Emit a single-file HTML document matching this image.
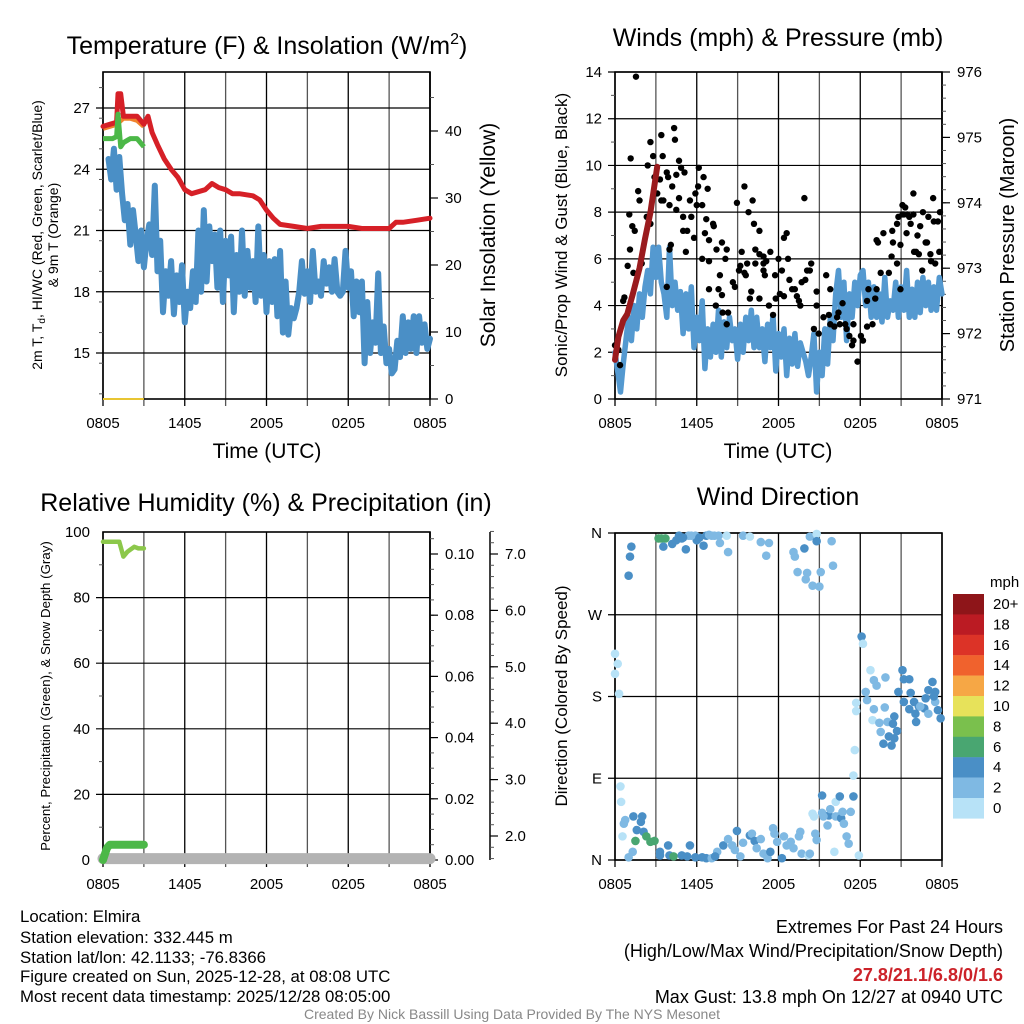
<!DOCTYPE html>
<html><head><meta charset="utf-8"><style>
html,body{margin:0;padding:0;background:#fff;}
svg{display:block;font-family:"Liberation Sans",Arial,sans-serif;}
</style></head><body>
<svg id="fig" width="1024" height="1024" viewBox="0 0 1024 1024" xmlns="http://www.w3.org/2000/svg">
<rect x="0" y="0" width="1024" height="1024" fill="#fff"/>
<g id="p1"></g>
<g id="p2"></g>
<g id="p3"></g>
<g id="p4"></g>
<g id="txt">
<text x="267" y="54" font-size="25" text-anchor="middle">Temperature (F) &amp; Insolation (W/m<tspan font-size="16" dy="-10">2</tspan><tspan dy="10">)</tspan></text>
<text x="778" y="46" font-size="25" text-anchor="middle">Winds (mph) &amp; Pressure (mb)</text>
<text x="266" y="511" font-size="25" text-anchor="middle">Relative Humidity (%) &amp; Precipitation (in)</text>
<text x="778" y="505" font-size="25" text-anchor="middle">Wind Direction</text>
<text x="267" y="458" font-size="21" text-anchor="middle">Time (UTC)</text>
<text x="778" y="458" font-size="21" text-anchor="middle">Time (UTC)</text>
<text transform="translate(42,235) rotate(-90)" font-size="14" text-anchor="middle">2m T, T<tspan font-size="10" dy="3">d</tspan><tspan dy="-3">, HI/WC (Red, Green, Scarlet/Blue)</tspan></text>
<text transform="translate(58,235) rotate(-90)" font-size="14" text-anchor="middle">&amp; 9m T (Orange)</text>
<text transform="translate(495,235) rotate(-90)" font-size="21" text-anchor="middle">Solar Insolation (Yellow)</text>
<text transform="translate(567,235) rotate(-90)" font-size="17" text-anchor="middle">Sonic/Prop Wind &amp; Gust (Blue, Black)</text>
<text transform="translate(1014,235) rotate(-90)" font-size="20" text-anchor="middle">Station Pressure (Maroon)</text>
<text transform="translate(50,696) rotate(-90)" font-size="13.3" text-anchor="middle">Percent, Precipitation (Green), &amp; Snow Depth (Gray)</text>
<text transform="translate(567,696) rotate(-90)" font-size="17" text-anchor="middle">Direction (Colored By Speed)</text>
<g font-size="16.8">
<text x="20" y="922">Location: Elmira</text>
<text x="20" y="943">Station elevation: 332.445 m</text>
<text x="20" y="963">Station lat/lon: 42.1133; -76.8366</text>
<text x="20" y="982">Figure created on Sun, 2025-12-28, at 08:08 UTC</text>
<text x="20" y="1002">Most recent data timestamp: 2025/12/28 08:05:00</text>
</g>
<g font-size="18" text-anchor="end">
<text x="1003" y="933">Extremes For Past 24 Hours</text>
<text x="1003" y="957">(High/Low/Max Wind/Precipitation/Snow Depth)</text>
<text x="1003" y="981" fill="#cc2229" font-weight="bold">27.8/21.1/6.8/0/1.6</text>
<text x="1003" y="1003">Max Gust: 13.8 mph On 12/27 at 0940 UTC</text>
</g>
<text x="512" y="1019" font-size="14" fill="#888" text-anchor="middle">Created By Nick Bassill Using Data Provided By The NYS Mesonet</text>
</g>
</svg>
<script>
// ---------- DATA ----------
const xTickLabels = ["0805","1405","2005","0205","0805"];
const p1LeftTicks = [15,18,21,24,27];
const p1RightTicks = [0,10,20,30,40];
const tempHours = [0,0.5,1.0,1.1,1.3,1.5,2,2.5,3,3.3,3.6,4,4.5,5,5.5,6,6.5,7,7.5,8,8.5,9,9.5,10,11,11.5,12,12.5,13,14,15,16,17,18,19,20,21,21.5,22,23,24];
const tempValues = [26.1,26.2,26.3,27.7,27.7,26.6,26.6,26.6,26.2,26.6,25.8,25.2,24.5,24.0,23.6,23.0,22.8,22.9,23.0,23.3,23.1,23.0,22.8,22.8,22.7,22.5,22.0,21.6,21.3,21.2,21.1,21.2,21.2,21.2,21.1,21.1,21.1,21.4,21.4,21.5,21.6];
const t9Hours = [0,0.5,1.0,1.5,2,2.5,3];
const t9Values = [26.0,26.1,26.2,26.5,26.5,26.4,26.1];
const wcHours = [0,0.7,1.0,1.1,1.3,1.5,2.0,2.5,3.0];
const wcValues = [25.5,25.5,25.6,26.7,25.1,25.3,25.5,25.5,25.1];
const dewStart = 0.4, dewStep = 0.2;
const dewValues = [24.5,23.5,25.0,23.0,24.6,22.8,21.5,22.3,20.3,22.0,20.8,19.5,21.0,19.2,20.5,21.3,19.8,23.2,19.0,20.5,17.0,19.0,17.8,19.5,16.9,18.8,17.5,19.3,16.5,18.0,17.2,19.0,17.5,21.0,18.0,22.0,18.5,21.2,19.5,20.8,18.2,21.0,17.5,20.5,18.8,20.7,17.0,19.8,18.0,21.0,17.8,20.0,18.2,19.5,17.5,21.2,17.8,19.8,17.0,19.5,17.5,19.6,16.8,20.0,16.0,18.5,15.9,17.2,16.7,17.2,18.0,19.5,17.9,19.0,17.5,20.0,18.0,18.5,17.8,19.5,18.4,19.2,18.0,19.6,18.0,17.8,18.0,20.0,18.2,19.0,16.8,18.5,17.0,18.5,14.5,17.5,15.0,16.5,15.5,18.9,15.0,16.3,14.5,15.2,14.0,14.2,15.6,14.8,16.8,15.0,16.5,15.2,16.8,15.0,16.8,15.5,16.4,15.2,15.7];
const solarHours = [0,3];
const solarValues = [0,0];

const p2LeftTicks = [0,2,4,6,8,10,12,14];
const p2RightTicks = [971,972,973,974,975,976];
const presHours = [0,0.25,0.6,0.9,1.3,1.8,2.2,2.6,3.1];
const presValues = [971.6,971.95,972.2,972.3,972.6,973.0,973.45,973.85,974.55];
const windStart = 0, windStep = 0.2;
const windValues = [2.0,1.2,0.3,1.5,2.5,3.5,2.5,4.0,3.0,4.5,3.5,4.8,5.5,4.5,6.5,5.2,6.5,5.0,4.5,3.5,6.5,4.0,5.0,3.8,4.6,2.8,4.5,3.0,4.8,2.2,3.5,2.5,4.2,1.3,3.0,1.8,3.2,2.0,3.8,1.8,3.3,2.2,3.5,2.5,3.0,1.7,3.2,2.0,3.5,2.5,3.8,2.2,3.5,2.2,3.0,1.6,3.2,2.2,3.6,1.2,2.8,1.8,3.0,1.0,2.6,1.5,2.8,1.4,2.4,2.0,1.6,1.0,1.8,2.8,0.3,2.0,1.0,3.0,1.5,3.5,2.5,4.5,5.5,3.5,5.0,2.5,4.5,3.5,5.0,4.0,5.3,5.5,4.0,5.0,3.5,4.8,3.5,4.5,3.3,5.2,3.5,4.2,3.8,5.0,3.5,4.8,3.8,5.5,3.5,4.7,3.5,5.0,3.7,5.2,4.0,5.0,3.8,4.8,3.8,5.2,4.5];
const gustHours = [1.54,1.15,1.05,1.27,1.45,1.1,0.93,0.69,0.6,0,0.25,0.37,1.7,1.8,1.35,1.96,2.33,2.6,2.4,2.6,2.8,2.9,3.1,3.4,3.55,3.4,4.34,4.4,3.5,3.3,3.8,3.9,4.2,4.0,4.5,4.7,4.85,5.1,4.7,4.5,5.0,5.0,5.3,5.8,5.6,5.5,5.9,6.15,6.0,6.1,6.5,6.4,6.7,6.6,6.8,7.2,7.25,6.9,7.45,7.85,8.2,8.1,6.4,6.9,5.2,4.1,4.0,3.8,6.9,7.6,7.85,7.7,7.4,7.9,8.3,8.2,8.65,8.8,8.95,9.5,9.8,10.1,10.2,10.6,10.3,9.3,9.2,9.1,9.5,9.6,9.7,10.0,9.9,10.3,10.6,10.9,10.9,11.1,11.4,10.9,11.0,11.3,11.6,10.6,11.8,11.75,12.0,12.1,12.25,12.4,12.4,12.6,12.7,12.8,13.0,13.2,13.35,13.5,13.6,13.7,13.9,13.97,14.1,14.3,14.4,14.8,14.8,14.6,14.95,15.3,15.5,15.8,15.7,15.8,16.1,16.3,16.4,16.7,16.5,16.9,17.2,17.0,17.5,17.5,17.4,17.8,18.05,18.2,18.5,18.9,18.5,18.6,19.2,19.1,19.2,19.3,19.5,19.7,20.1,20.3,20.4,20.35,20.7,20.8,20.7,20.95,21.1,20.95,21.2,21.3,21.1,21.45,21.4,21.6,21.7,21.9,21.9,21.95,22.1,22.2,22.3,22.4,22.55,22.6,22.8,22.9,23.0,23.15,23.2,23.35,23.4,23.5,23.7,23.8,23.85];
const gustValues = [13.8,10.3,7.9,7.4,7.2,6.4,5.7,4.35,4.2,2.3,2.1,1.45,8.9,8.5,5.4,5.8,7.8,7.5,10.0,11.0,10.4,9.5,8.8,8.5,8.5,11.3,11.6,11.1,10.4,9.4,9.7,9.5,9.1,8.3,9.6,10.2,9.9,9.7,8.6,8.1,7.8,7.2,7.2,6.9,7.8,8.5,8.8,9.9,8.3,9.1,9.5,8.3,7.7,7.1,9.0,7.5,7.4,6.8,6.4,6.7,6.4,6.0,6.0,5.9,6.3,6.6,6.4,4.8,4.7,4.7,4.45,5.3,4.0,3.7,3.7,3.2,5.0,4.8,8.4,9.1,8.0,8.5,7.5,7.2,6.4,6.3,5.7,5.5,5.4,5.3,5.8,4.6,4.3,5.8,6.2,6.1,5.8,5.9,6.3,5.5,5.3,4.0,3.6,4.3,4.3,5.3,6.0,4.5,5.5,4.4,6.9,7.1,6.0,5.1,4.7,4.7,4.4,4.2,4.0,5.0,8.6,5.1,5.5,5.5,5.8,4.6,4.0,3.0,2.8,3.5,5.3,4.7,3.6,3.2,3.1,3.5,3.7,4.1,3.2,3.2,2.7,3.0,3.2,2.5,2.3,1.6,2.7,2.5,3.1,3.2,4.2,4.7,4.7,4.3,6.8,6.7,5.4,7.1,5.4,6.1,6.7,7.2,7.5,7.8,5.8,6.6,7.9,4.7,7.9,8.2,8.3,7.9,7.1,7.8,7.5,7.9,8.8,6.3,6.3,7.0,6.2,7.4,5.5,8.0,6.7,6.7,7.8,6.2,5.9,8.6,7.6,5.8,7.6,6.3,8.0];

const p3LeftTicks = [0,20,40,60,80,100];
const p3RightTicks = ["0.00","0.02","0.04","0.06","0.08","0.10"];
const p3SnowTicks = ["2.0","3.0","4.0","5.0","6.0","7.0"];
const rhHours = [0,0.7,1.2,1.5,1.8,2.3,2.6,3.0];
const rhValues = [97,97,97,92.5,94,95.5,95,95];
const precipHours = [0,0.15,0.3,0.5,0.8,1.5,2.0,3.0];
const precipValues = [0,0.002,0.004,0.005,0.005,0.005,0.005,0.005];
const snowHours = [0,6,12,18,24];
const snowValues = [1.6,1.6,1.6,1.6,1.6];

const dirTickLabels = ["N","E","S","W","N"];
const dirHours = [1.2,1.1,1.0,3.2,3.4,3.7,3.55,4.2,4.7,4.9,5.2,5.4,5.9,6.0,6.5,6.7,7.1,7.6,7.7,8.2,8.3,9.4,9.9,10.7,11.3,11.1,13.1,13.2,13.9,13.4,14.1,14.0,14.5,15.0,15.1,14.3,14.8,14.8,15.9,16.0,4.5,5.0,5.6,6.2,6.9,7.3,
0,0.2,0.0,0.3,
18.1,18.2,18.75,19.0,19.2,19.85,18.4,18.5,17.7,17.7,19.0,19.8,18.9,19.4,20.0,20.5,20.4,20.7,19.5,20.1,19.7,20.3,20.5,17.6,17.5,
21.1,21.2,21.6,20.8,21.7,21.2,21.95,21.6,22.3,22.05,22.1,22.7,23.0,22.8,23.3,23.0,23.5,23.5,23.7,23.9,23.4,22.4,
0.4,0.45,0.75,0.65,1.35,2.0,1.9,1.6,2.1,2.3,2.6,2.9,1.5,0.55,1.3,1.0,3.3,3.9,3.3,4.0,4.3,4.9,5.5,5.3,5.9,6.4,6.7,7.1,7.5,7.35,7.95,8.3,8.6,8.95,8.8,9.2,9.4,9.9,10.05,10.25,10.4,10.7,10.9,11.2,11.4,11.6,11.7,11.9,12.25,12.4,12.6,12.9,13.1,13.5,13.6,13.7,14.2,14.7,14.8,14.5,14.6,15.2,15.2,15.6,15.7,15.8,16.2,16.5,16.2,16.4,16.6,16.8,16.7,17.3,17.5,17.0,17.15,16.1,17.9,15.3,14.3];
const dirValues = [345,334,313,354,354,354,345,348,357,354,342,357,357,352,346,357,357,357,349,357,339,357,356,350,349,335,339,334,343,317,316,309,302,301,317,356,359,351,351,324,352,355,357,355,358,357,
227,216,205,183,
246,238,209,198,192,201,185,176,173,164,166,168,154,151,152,158,150,142,141,136,128,126,134,121,93,
209,199,199,185,184,174,174,166,169,161,152,167,161,178,196,187,185,174,165,156,180,169,
81,64,44,40,48,48,42,33,31,26,20,21,21,26,9,3,9,16,5,5,4,5,16,4,3,3,2,2,9,4,16,23,16,32,11,4,19,27,29,21,13,23,7,2,9,35,29,20,2,26,16,20,13,26,31,7,5,29,22,51,48,71,52,38,49,56,64,70,48,48,46,40,53,53,70,26,18,9,5,48,7];
const dirSpeeds = [4,4,4,6,6,6,4,4,4,4,4,2,2,4,4,4,2,2,2,0,2,2,0,2,2,2,2,2,4,2,2,2,2,2,2,2,0,4,2,2,4,4,2,4,2,2,
0,0,0,0,
4,0,0,2,2,2,2,2,0,0,2,2,0,2,2,4,4,4,2,4,4,4,4,0,0,
4,4,4,4,4,4,4,4,4,4,4,4,2,4,4,4,4,2,4,4,4,2,
0,0,2,2,4,4,4,4,4,6,6,6,6,0,2,2,4,4,4,4,6,4,4,4,4,4,4,2,2,4,4,2,2,4,2,2,2,4,2,4,2,2,2,2,4,2,2,2,4,2,2,2,2,2,2,2,0,2,2,0,0,4,2,2,4,2,0,4,2,2,4,2,2,2,4,2,2,0,0,2,2];
const cbLabels = ["20+","18","16","14","12","10","8","6","4","2","0"];
const cbColors = ["#8e1519","#bb1b23","#dc3327","#f0622d","#f6a745","#e7e25a","#7ac04d","#49a671","#4a8fc6","#7fb9e3","#b7e2f7"];

// ---------- HELPERS ----------
const NS="http://www.w3.org/2000/svg";
function mk(parent,tag,attrs){const e=document.createElementNS(NS,tag);for(const k in attrs)e.setAttribute(k,attrs[k]);parent.appendChild(e);return e;}
function lin(d0,d1,r0,r1){return v=>r0+(v-d0)*(r1-r0)/(d1-d0);}
function pathD(xs,ys,fx,fy){return xs.map((h,i)=>(i?"L":"M")+fx(h).toFixed(1)+","+fy(ys[i]).toFixed(1)).join(" ");}
function speedColor(s){const idx=Math.min(10,Math.floor(s/2));return cbColors[10-idx];}

function frame(g,L,R,T,B,fx,hGrid){
  for(let h=0;h<=24;h+=3){
    const l=mk(g,"line",{x1:fx(h),x2:fx(h),y1:T,y2:B+7,stroke:(h%6===0)?"#000":"#555","stroke-width":1.3});
    
    
  }
  hGrid.forEach(y=>{
    const l=mk(g,"line",{x1:L-7,x2:R,y1:y,y2:y,stroke:"#000","stroke-width":1.2});
    
    
  });
  const r=mk(g,"rect",{x:L,y:T,width:R-L,height:B-T,fill:"none",stroke:"#000","stroke-width":1.6});
  
  
  xTickLabels.forEach((t,i)=>{
    const tx=mk(g,"text",{x:fx(i*6),y:B+29,"font-size":15,"text-anchor":"middle"});tx.textContent=t;
    
    
  });
}
function leftLabels(g,L,ticks,fy,labels){
  ticks.forEach((v,i)=>{
    const tx=mk(g,"text",{x:L-13,y:fy(v)+5,"font-size":15,"text-anchor":"end"});tx.textContent=labels?labels[i]:v;
    
    
  });
}
function rightAxis(g,X,ticks,fy,labels,minor,T,B){
  const ax=mk(g,"line",{x1:X,x2:X,y1:T,y2:B,stroke:"#000","stroke-width":1.5});
  
  
  minor.forEach(v=>{const y=fy(v);if(y<T-1||y>B+1)return;
    const l=mk(g,"line",{x1:X,x2:X+4,y1:y,y2:y,stroke:"#555","stroke-width":1});
    
    });
  ticks.forEach((v,i)=>{const y=fy(v);
    const l=mk(g,"line",{x1:X,x2:X+8,y1:y,y2:y,stroke:"#000","stroke-width":1.2});
    
    
    const tx=mk(g,"text",{x:X+15,y:y+5,"font-size":15});tx.textContent=labels?labels[i]:v;
    
    });
}
function leftMinor(g,L,vals,fy,T,B){
  vals.forEach(v=>{const y=fy(v);if(y<T-1||y>B+1)return;
    const l=mk(g,"line",{x1:L-4,x2:L,y1:y,y2:y,stroke:"#555","stroke-width":1});
    
    });
}
function range(a,b,s){const r=[];for(let v=a;v<=b+1e-9;v+=s)r.push(+v.toFixed(4));return r;}

// ---------- PANEL 1 ----------
(function(){
  const g=document.getElementById("p1");
  const L=103,R=430,T=72,B=399;
  const fx=lin(0,24,L,R), fy=lin(15,27,353,108), fs=lin(0,40,399,131);
  frame(g,L,R,T,B,fx,p1LeftTicks.map(fy));
  leftLabels(g,L,p1LeftTicks,fy);
  leftMinor(g,L,range(13,28.5,1.5),fy,T,B);
  rightAxis(g,R,p1RightTicks,fs,null,range(0,48,5),T,B);
  const dewH=dewValues.map((v,i)=>dewStart+i*dewStep);
  let p=mk(g,"path",{d:pathD(dewH,dewValues,fx,fy),fill:"none",stroke:"#4a8fc6","stroke-width":6,"stroke-linejoin":"round","stroke-linecap":"round"});
  
  
  p=mk(g,"path",{d:pathD(t9Hours,t9Values,fx,fy),fill:"none",stroke:"#f0822d","stroke-width":5,"stroke-linejoin":"round"});
  
  
  p=mk(g,"path",{d:pathD(tempHours,tempValues,fx,fy),fill:"none",stroke:"#d62027","stroke-width":5,"stroke-linejoin":"round","stroke-linecap":"round"});
  
  
  p=mk(g,"path",{d:pathD(wcHours,wcValues,fx,fy),fill:"none",stroke:"#4cb848","stroke-width":5,"stroke-linejoin":"round"});
  
  
  p=mk(g,"path",{d:pathD(solarHours,solarValues,fx,fs),fill:"none",stroke:"#e8c532","stroke-width":2});
  
  
})();

// ---------- PANEL 2 ----------
(function(){
  const g=document.getElementById("p2");
  const L=615,R=942,T=72,B=399;
  const fx=lin(0,24,L,R), fy=lin(0,14,399,72), fp=lin(971,976,399,72);
  frame(g,L,R,T,B,fx,p2LeftTicks.map(fy));
  leftLabels(g,L,p2LeftTicks,fy);
  leftMinor(g,L,range(1,13,2),fy,T,B);
  rightAxis(g,R,p2RightTicks,fp,null,range(971,976,0.2),T,B);
  const wH=windValues.map((v,i)=>windStart+i*windStep);
  let p=mk(g,"path",{d:pathD(wH,windValues,fx,fy),fill:"none",stroke:"#5499d0","stroke-width":5.5,"stroke-linejoin":"round","stroke-linecap":"round"});
  
  
  gustHours.forEach((h,i)=>{
    const c=mk(g,"circle",{cx:fx(h),cy:fy(gustValues[i]),r:3.2,fill:"#000"});
    
    
  });
  p=mk(g,"path",{d:pathD(presHours,presValues,fx,fp),fill:"none",stroke:"#9a1b1e","stroke-width":6,"stroke-linejoin":"round","stroke-linecap":"round"});
  
  
})();

// ---------- PANEL 3 ----------
(function(){
  const g=document.getElementById("p3");
  const L=103,R=430,T=532,B=860;
  const fx=lin(0,24,L,R), fy=lin(0,100,860,532), fpr=lin(0,0.1,860,554), fsn=lin(2,7,836,554);
  frame(g,L,R,T,B,fx,p3LeftTicks.slice(1,5).map(fy));
  leftLabels(g,L,p3LeftTicks,fy);
  leftMinor(g,L,range(10,90,20),fy,T,B);
  rightAxis(g,R,p3RightTicks.map(Number),fpr,p3RightTicks,range(0,0.105,0.005),T,B);
  rightAxis(g,490,p3SnowTicks.map(Number),fsn,p3SnowTicks,range(1.6,7.4,0.2),T,B);
  let p=mk(g,"path",{d:pathD(snowHours,snowValues,fx,fsn),fill:"none",stroke:"#b3b3b3","stroke-width":11,"stroke-linecap":"round"});
  
  
  p=mk(g,"path",{d:pathD(precipHours,precipValues,fx,fpr),fill:"none",stroke:"#4cb848","stroke-width":8,"stroke-linejoin":"round","stroke-linecap":"round"});
  
  
  p=mk(g,"path",{d:pathD(rhHours,rhValues,fx,fy),fill:"none",stroke:"#8cc84b","stroke-width":4.5,"stroke-linejoin":"round","stroke-linecap":"round"});
  
  
})();

// ---------- PANEL 4 ----------
(function(){
  const g=document.getElementById("p4");
  const L=615,R=942,T=533,B=860;
  const fx=lin(0,24,L,R), fy=lin(0,360,860,533);
  frame(g,L,R,T,B,fx,[0,90,180,270,360].map(fy));
  leftLabels(g,L,[0,90,180,270,360],fy,dirTickLabels);
  dirHours.forEach((h,i)=>{
    const c=mk(g,"circle",{cx:fx(h),cy:fy(dirValues[i]),r:4.3,fill:speedColor(dirSpeeds[i])});
    
    
  });
  const cb=mk(g,"g",{});
  
  
  const t=mk(cb,"text",{x:990,y:587,"font-size":15});t.textContent="mph";
  
  
  cbColors.forEach((c,i)=>{
    const y=594+i*20.4;
    const r=mk(cb,"rect",{x:953,y:y,width:31,height:20.6,fill:c});
    
    
    const tx=mk(cb,"text",{x:993,y:y+15,"font-size":15});tx.textContent=cbLabels[i];
    
    
  });
})();
</script>
</body></html>
